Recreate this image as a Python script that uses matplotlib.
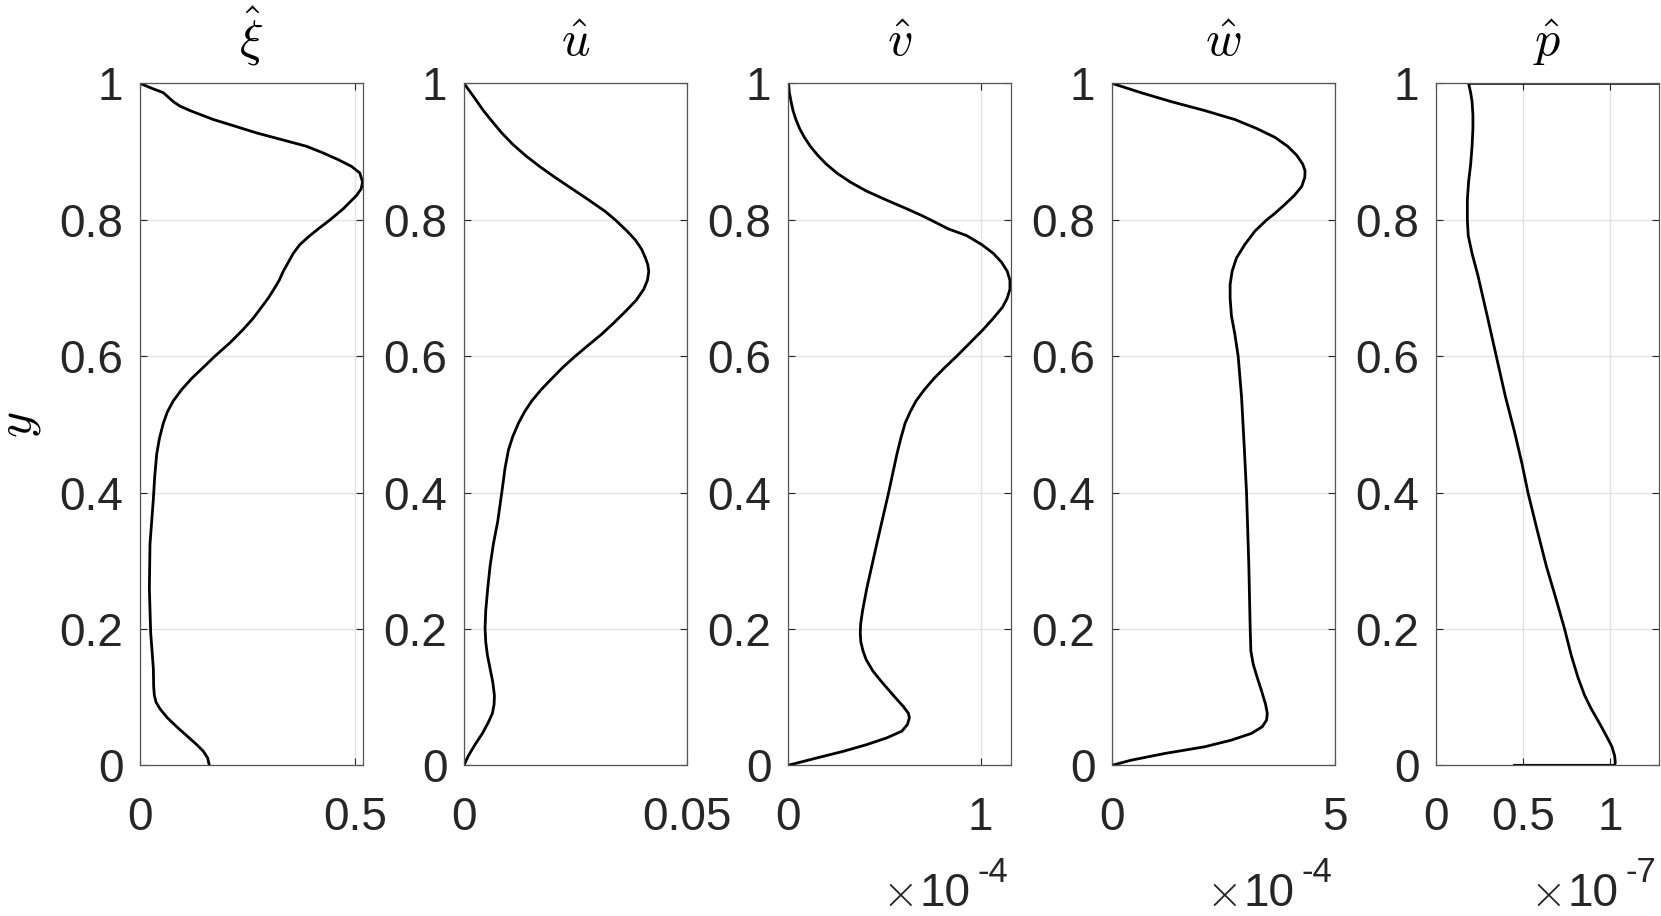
import numpy as np
import matplotlib
matplotlib.use('Agg')
import matplotlib.pyplot as plt

plt.rcParams['font.family'] = ['Liberation Sans', 'DejaVu Sans']

# wall-normal coordinate and profiles
y_xi = [1.0, 0.9928, 0.9863, 0.9797, 0.9732, 0.9666, 0.9601, 0.9535, 0.9470, 0.9372,
        0.9273, 0.9175, 0.9077, 0.8979, 0.8881, 0.8782, 0.8684, 0.8553, 0.8455, 0.8357,
        0.8259, 0.8160, 0.7997, 0.7866, 0.7768, 0.7637, 0.7506, 0.7375, 0.7244, 0.7113,
        0.6982, 0.6851, 0.6720, 0.6557, 0.6393, 0.6196, 0.6000, 0.5836, 0.5673, 0.5509,
        0.5345, 0.5182, 0.5018, 0.4789, 0.4560, 0.4232, 0.3905, 0.3250, 0.2596, 0.1941,
        0.1417, 0.1155, 0.1025, 0.0926, 0.0828, 0.0697, 0.0566, 0.0435, 0.0304, 0.0206,
        0.0108, 0.0]
xi_hat = [0.0, 0.0271, 0.0542, 0.0658, 0.0774, 0.0929, 0.1161, 0.1432, 0.1703, 0.2206,
          0.2709, 0.3290, 0.3870, 0.4257, 0.4605, 0.4915, 0.5108, 0.5170, 0.5139, 0.5031,
          0.4876, 0.4721, 0.4412, 0.4141, 0.3947, 0.3715, 0.3560, 0.3444, 0.3328, 0.3235,
          0.3111, 0.2980, 0.2825, 0.2632, 0.2399, 0.2090, 0.1741, 0.1471, 0.1200, 0.0967,
          0.0774, 0.0635, 0.0542, 0.0449, 0.0387, 0.0341, 0.0310, 0.0232, 0.0217, 0.0248,
          0.0310, 0.0317, 0.0333, 0.0372, 0.0464, 0.0635, 0.0851, 0.1084, 0.1316, 0.1471,
          0.1571, 0.1610]

y_u = [1.0, 0.9797, 0.9601, 0.9437, 0.9273, 0.9110, 0.8946, 0.8782, 0.8619, 0.8455,
       0.8291, 0.8128, 0.7997, 0.7833, 0.7702, 0.7571, 0.7440, 0.7342, 0.7244, 0.7113,
       0.6982, 0.6818, 0.6655, 0.6491, 0.6327, 0.6164, 0.6000, 0.5836, 0.5673, 0.5509,
       0.5345, 0.5182, 0.5018, 0.4822, 0.4625, 0.4363, 0.3997, 0.3578, 0.3250, 0.2923,
       0.2596, 0.2268, 0.2006, 0.1810, 0.1614, 0.1417, 0.1221, 0.1025, 0.0894, 0.0763,
       0.0632, 0.0468, 0.0304, 0.0141, 0.0]
u_hat = [0.0, 0.00225, 0.00435, 0.00638, 0.00848, 0.01089, 0.01374, 0.01697, 0.02050,
         0.02425, 0.02800, 0.03161, 0.03401, 0.03664, 0.03852, 0.03987, 0.04077, 0.04129,
         0.04152, 0.04122, 0.04039, 0.03867, 0.03626, 0.03371, 0.03101, 0.02800, 0.02500,
         0.02222, 0.01975, 0.01734, 0.01524, 0.01359, 0.01224, 0.01096, 0.00999, 0.00923,
         0.00848, 0.00758, 0.00661, 0.00586, 0.00533, 0.00488, 0.00473, 0.00488, 0.00526,
         0.00586, 0.00646, 0.00683, 0.00676, 0.00638, 0.00548, 0.00413, 0.00248, 0.00098,
         0.0]

# v and w in units of 1e-4, p in units of 1e-7
y_v = [1.0, 0.9863, 0.9732, 0.9601, 0.9470, 0.9339, 0.9208, 0.9077, 0.8946, 0.8815,
       0.8684, 0.8553, 0.8422, 0.8291, 0.8160, 0.8062, 0.7997, 0.7866, 0.7768, 0.7637,
       0.7506, 0.7375, 0.7244, 0.7113, 0.6982, 0.6851, 0.6720, 0.6557, 0.6393, 0.6196,
       0.6000, 0.5836, 0.5673, 0.5509, 0.5345, 0.5182, 0.5018, 0.4789, 0.4560, 0.3997,
       0.3250, 0.2596, 0.2268, 0.2072, 0.1941, 0.1810, 0.1679, 0.1548, 0.1385, 0.1221,
       0.1025, 0.0861, 0.0763, 0.0697, 0.0599, 0.0501, 0.0403, 0.0304, 0.0206, 0.0108,
       0.0]
v_hat = [0.003, 0.007, 0.016, 0.026, 0.041, 0.060, 0.085, 0.116, 0.154, 0.199, 0.254,
         0.323, 0.406, 0.509, 0.617, 0.694, 0.741, 0.832, 0.927, 1.005, 1.066, 1.109,
         1.138, 1.152, 1.152, 1.138, 1.114, 1.066, 1.014, 0.945, 0.876, 0.815, 0.758,
         0.708, 0.665, 0.634, 0.608, 0.585, 0.565, 0.522, 0.461, 0.409, 0.387, 0.377,
         0.375, 0.378, 0.389, 0.406, 0.440, 0.487, 0.547, 0.599, 0.625, 0.630, 0.620,
         0.591, 0.513, 0.409, 0.288, 0.150, 0.0]

y_w = [1.0, 0.9863, 0.9732, 0.9601, 0.9470, 0.9339, 0.9208, 0.9077, 0.8946, 0.8815,
       0.8717, 0.8619, 0.8488, 0.8357, 0.8226, 0.8095, 0.7997, 0.7833, 0.7637, 0.7440,
       0.7244, 0.7048, 0.6851, 0.6589, 0.6327, 0.6000, 0.5411, 0.4691, 0.3997, 0.2923,
       0.2006, 0.1679, 0.1483, 0.1287, 0.1090, 0.0894, 0.0763, 0.0664, 0.0566, 0.0468,
       0.0370, 0.0272, 0.0173, 0.0075, 0.0]
w_hat = [0.0, 0.654, 1.331, 2.083, 2.759, 3.248, 3.662, 3.947, 4.150, 4.286, 4.338,
         4.331, 4.263, 4.098, 3.887, 3.662, 3.474, 3.211, 2.985, 2.797, 2.699, 2.654,
         2.654, 2.684, 2.759, 2.835, 2.910, 2.970, 3.023, 3.075, 3.105, 3.120, 3.173,
         3.263, 3.361, 3.451, 3.489, 3.474, 3.376, 3.135, 2.684, 2.083, 1.180, 0.429, 0.0]

y_p = [1.0, 1.0, 0.9863, 0.9732, 0.9535, 0.9339, 0.9077, 0.8815, 0.8553, 0.8291, 0.7997,
       0.7768, 0.7506, 0.7178, 0.6589, 0.6000, 0.5411, 0.4887, 0.4429, 0.3997, 0.3447,
       0.2923, 0.2465, 0.1999, 0.1614, 0.1287, 0.1025, 0.0828, 0.0632, 0.0435, 0.0272,
       0.0141, 0.0043, 0.0, 0.0]
p_hat = [3.0, 0.187, 0.199, 0.207, 0.212, 0.212, 0.207, 0.199, 0.187, 0.180, 0.180,
         0.185, 0.207, 0.241, 0.294, 0.346, 0.398, 0.451, 0.493, 0.528, 0.581, 0.633,
         0.686, 0.738, 0.776, 0.815, 0.853, 0.891, 0.935, 0.977, 1.010, 1.025, 1.029,
         1.025, 0.451]

titles = [r'$\hat{\xi}$', r'$\hat{u}$', r'$\hat{v}$', r'$\hat{w}$', r'$\hat{p}$']
profiles = [(xi_hat, y_xi), (u_hat, y_u), (v_hat, y_v), (w_hat, y_w), (p_hat, y_p)]
xlims = [0.517, 0.05, 1.155, 5.0, 1.277]
xticks = [[0, 0.5], [0, 0.05], [0, 1], [0, 5], [0, 0.5, 1]]
xticklabels = [['0', '0.5'], ['0', '0.05'], ['0', '1'], ['0', '5'], ['0', '0.5', '1']]
exponents = [None, None, '-4', '-4', '-7']
yticks = [0, 0.2, 0.4, 0.6, 0.8, 1]
yticklabels = ['0', '0.2', '0.4', '0.6', '0.8', '1']

ink = '#262626'
fig, axes = plt.subplots(1, 5, figsize=(16.61, 9.16), dpi=100)
fig.subplots_adjust(left=0.0843, right=0.9985, bottom=0.1645, top=0.909, wspace=0.456)

for i, ax in enumerate(axes):
    x, y = profiles[i]
    ax.plot(x, y, color='black', lw=2.0)
    ax.set_xlim(0, xlims[i])
    ax.set_ylim(0, 1)
    ax.set_xticks(xticks[i])
    ax.set_xticklabels(xticklabels[i])
    ax.set_yticks(yticks)
    ax.set_yticklabels(yticklabels)
    ax.grid(True, color='#e3e3e3', lw=1.0)
    ax.set_axisbelow(True)
    ax.tick_params(direction='in', length=5, width=0.8, colors=ink, labelsize=33,
                   top=True, right=True)
    ax.tick_params(axis='x', pad=22)
    ax.tick_params(axis='y', pad=12)
    for s in ax.spines.values():
        s.set_color('#555555')
        s.set_linewidth(0.9)
    ax.set_title(titles[i], fontsize=36, pad=20, math_fontfamily='cm', color='black')
    if exponents[i]:
        # MATLAB-style exponent label under the axis
        ax.text(0.49, -0.207, r'$\times$', transform=ax.transAxes, ha='center',
                va='baseline', fontsize=33, color=ink, math_fontfamily='cm')
        ax.text(0.818, -0.207, '10', transform=ax.transAxes, ha='right',
                va='baseline', fontsize=33, color=ink)
        ax.text(0.99, -0.171, exponents[i], transform=ax.transAxes, ha='right',
                va='baseline', fontsize=25, color=ink)

axes[0].set_ylabel(r'$y$', fontsize=36, math_fontfamily='cm', labelpad=12)

plt.savefig('out.png', dpi=100)
